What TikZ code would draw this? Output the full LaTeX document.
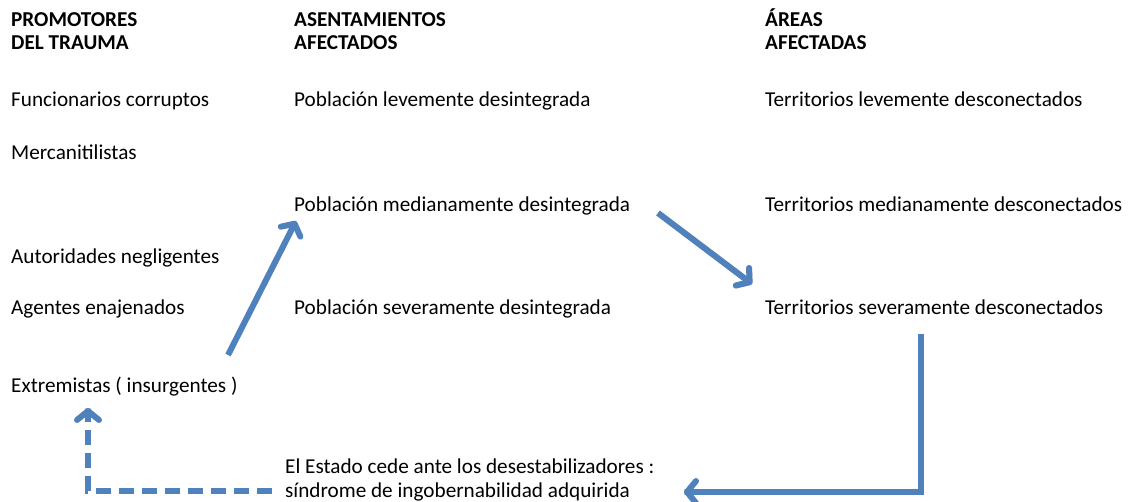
\documentclass[tikz,border=0pt]{standalone}
\usepackage{fontspec}
\setmainfont{Carlito}
\usetikzlibrary{arrows.meta}
\definecolor{arrblue}{HTML}{4F81BD}
\definecolor{shad}{HTML}{C8C8C8}
\tikzset{
  lbl/.style={anchor=base west, inner sep=0pt, font=\fontsize{21.2}{25}\selectfont},
  hdr/.style={anchor=base west, inner sep=0pt, font=\fontsize{21.2}{25}\selectfont\bfseries},
  tip/.style={-{Straight Barb[length=9pt,width=22pt,line cap=round,line join=round]}},
  flow/.style={draw=arrblue, line width=6pt, tip},
  shadowline/.style={draw=shad, line width=6pt, tip},
  dflow/.style={draw=arrblue, line width=6pt, dash pattern=on 15pt off 8pt, tip}
}
\begin{document}
\begin{tikzpicture}[x=1pt,y=-1pt]
\useasboundingbox (0,0) rectangle (1132,502);
% headers
\node[hdr] (h1a) at (11,27) {PROMOTORES};
\node[hdr] (h1b) at (11,50) {DEL TRAUMA};
\node[hdr] (h2a) at (294,27) {ASENTAMIENTOS};
\node[hdr] (h2b) at (294,50) {AFECTADOS};
\node[hdr] (h3a) at (765,27) {ÁREAS};
\node[hdr] (h3b) at (765,50) {AFECTADAS};
% column 1
\node[lbl] (fc) at (11,107) {Funcionarios corruptos};
\node[lbl] (me) at (11,160) {Mercanitilistas};
\node[lbl] (an) at (11,264) {Autoridades negligentes};
\node[lbl] (ae) at (11,315) {Agentes enajenados};
\node[lbl] (ex) at (11,392) {Extremistas ( insurgentes )};
% column 2
\node[lbl] (pl) at (294,107) {Población levemente desintegrada};
\node[lbl] (pm) at (294,212) {Población medianamente desintegrada};
\node[lbl] (ps) at (294,315) {Población severamente desintegrada};
% column 3
\node[lbl] (tl) at (765,107) {Territorios levemente desconectados};
\node[lbl] (tm) at (765,212) {Territorios medianamente desconectados};
\node[lbl] (ts) at (765,315) {Territorios severamente desconectados};
% bottom text
\node[lbl] (es1) at (285,473) {El Estado cede ante los desestabilizadores :};
\node[lbl] (es2) at (285,497) {síndrome de ingobernabilidad adquirida};
% connector coordinates
\coordinate (a1s) at (228,355);
\coordinate (a1e) at (296,221);
\coordinate (a2s) at (658,213);
\coordinate (a2e) at (752,284);
\coordinate (a3s) at (921,334);
\coordinate (a3e) at (684,492);
\coordinate (a4s) at (272,491);
\coordinate (a4e) at (88,408);
% shadows
\draw[shadowline, shift={(2,2.5)}] (a2s) -- (a2e);
\draw[draw=shad, line width=6pt, shift={(2,2.5)}] (a3s) |- (a3e);
\draw[draw=shad, line width=6pt, dash pattern=on 15pt off 8pt, shift={(0,2.5)}] (a4s) -| (a4e);
% arrows
\draw[flow] (a1s) -- (a1e);
\draw[flow] (a2s) -- (a2e);
\draw[flow] (a3s) |- (a3e);
\draw[dflow] (a4s) -| (a4e);
\end{tikzpicture}
\end{document}
